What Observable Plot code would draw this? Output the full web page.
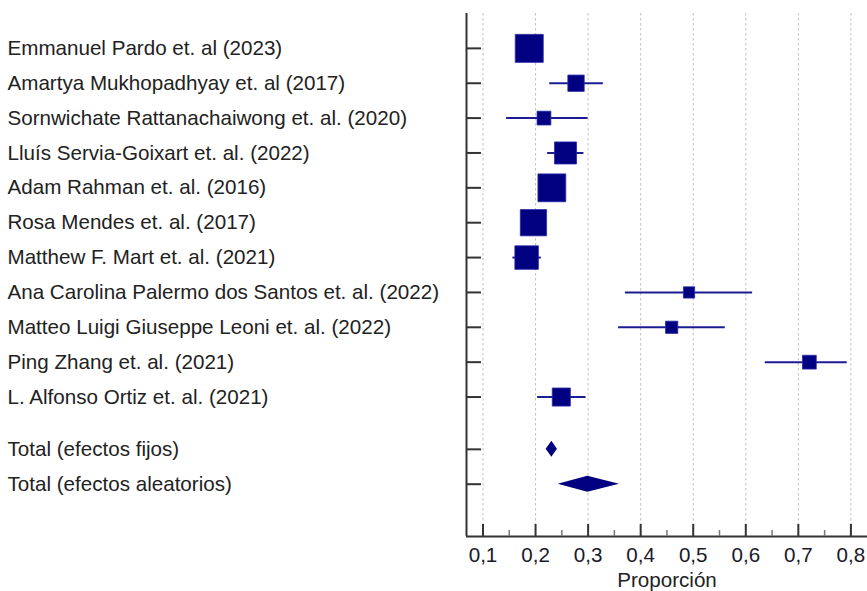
<!DOCTYPE html>
<html><head><meta charset="utf-8">
<script src="https://cdn.jsdelivr.net/npm/d3@7"></script>
<script src="https://cdn.jsdelivr.net/npm/@observablehq/plot@0.6"></script>
<style>body{margin:0;background:#fff}#chart{width:867px;height:591px}</style>
</head><body><div id="chart"></div>
<script>
// ---- data ----
const studies = [
  "Emmanuel Pardo et. al (2023)",
  "Amartya Mukhopadhyay et. al (2017)",
  "Sornwichate Rattanachaiwong et. al. (2020)",
  "Lluís Servia-Goixart et. al. (2022)",
  "Adam Rahman et. al. (2016)",
  "Rosa Mendes et. al. (2017)",
  "Matthew F. Mart et. al. (2021)",
  "Ana Carolina Palermo dos Santos et. al. (2022)",
  "Matteo Luigi Giuseppe Leoni et. al. (2022)",
  "Ping Zhang et. al. (2021)",
  "L. Alfonso Ortiz et. al. (2021)"
];
const estimates = [0.188, 0.277, 0.216, 0.257, 0.231, 0.196, 0.183, 0.492, 0.459, 0.721, 0.249];
const lower     = [0.175, 0.227, 0.145, 0.223, 0.217, 0.182, 0.157, 0.371, 0.358, 0.637, 0.204];
const upper     = [0.203, 0.329, 0.300, 0.292, 0.246, 0.211, 0.211, 0.613, 0.561, 0.793, 0.296];
const weights   = [17.3, 5.9, 4.2, 10.7, 17.1, 15.2, 12.2, 2.8, 3.3, 4.2, 7.2]; // % weight

const totalLabels    = ["Total (efectos fijos)", "Total (efectos aleatorios)"];
const totalEstimates = [0.231, 0.2994];
const totalLower     = [0.2202, 0.243];
const totalUpper     = [0.2416, 0.3597];

const xTicks      = [0.1, 0.2, 0.3, 0.4, 0.5, 0.6, 0.7, 0.8];
const xMinorTicks = [0.15, 0.25, 0.35, 0.45, 0.55, 0.65, 0.75];
const xLabel = "Proporción";

// ---- derived tables ----
const rows = studies.map((name, i) => ({name, y: i + 1, est: estimates[i], lo: lower[i], hi: upper[i], w: weights[i]}));
const totals = totalLabels.map((name, i) => ({name, y: studies.length + 1.5 + i, est: totalEstimates[i], lo: totalLower[i], hi: totalUpper[i]}));
const diamondHalf = 0.23;
const diamonds = totals.flatMap(t => [
  {name: t.name, y: t.y - diamondHalf, x1: t.est, x2: t.est},
  {name: t.name, y: t.y, x1: t.lo, x2: t.hi},
  {name: t.name, y: t.y + diamondHalf, x1: t.est, x2: t.est}
]);
const allRows = [...rows, ...totals];

const W = 867, H = 591, mL = 466, mR = 0, mT = 13, mB = 55;
const plotW = W - mL - mR, plotH = H - mT - mB;
const xDomain = [0.0686, 0.8316];
const navy = "#000080";
const fs = 20.6;
const fmt = d => d.toFixed(1).replace(".", ",");

const chart = Plot.plot({
  width: W, height: H,
  marginLeft: mL, marginRight: mR, marginTop: mT, marginBottom: mB,
  style: {fontFamily: "'Liberation Sans', Arial, sans-serif", fontSize: fs + "px", background: "#fff", color: "#222", overflow: "visible"},
  x: {domain: xDomain},
  y: {domain: [0, 15], reverse: true, axis: null},
  r: {type: "sqrt", domain: [0, 100], range: [0, 38]},
  marks: [
    Plot.ruleX(xTicks, {stroke: "#c0c0c0", strokeWidth: 1, strokeDasharray: "2.5,2.5"}),
    Plot.ruleX([xDomain[0]], {stroke: "#333", strokeWidth: 2}),
    Plot.ruleY([15], {stroke: "#333", strokeWidth: 2}),
    Plot.tickY(allRows, {y: "y", stroke: "#333", strokeWidth: 2, insetRight: plotW - 15}),
    Plot.tickX(xTicks, {x: d => d, stroke: "#333", strokeWidth: 2, insetTop: plotH - 12}),
    Plot.tickX(xMinorTicks, {x: d => d, stroke: "#777", strokeWidth: 1.5, insetTop: plotH - 6}),
    Plot.axisX({ticks: xTicks, tickSize: 0, tickPadding: 11, tickFormat: fmt, label: null, fontSize: fs, fill: "#1a1a2a"}),
    Plot.ruleY(rows, {y: "y", x1: "lo", x2: "hi", stroke: "#1c1c94", strokeWidth: 2}),
    Plot.dot(rows, {x: "est", y: "y", r: "w", symbol: "square", fill: navy, stroke: "#2a2aa8", strokeWidth: 0.8}),
    Plot.areaX(diamonds, {y: "y", x1: "x1", x2: "x2", z: "name", fill: navy, curve: "linear"}),
    Plot.text(allRows, {y: "y", text: "name", frameAnchor: "left", textAnchor: "start", dx: -(mL - 7), fill: "#222", fontSize: fs}),
    Plot.text([xLabel], {text: d => d, frameAnchor: "bottom", lineAnchor: "top", dy: 36, fill: "#222", fontSize: fs})
  ]
});
document.getElementById("chart").appendChild(chart);
</script>
</body></html>
